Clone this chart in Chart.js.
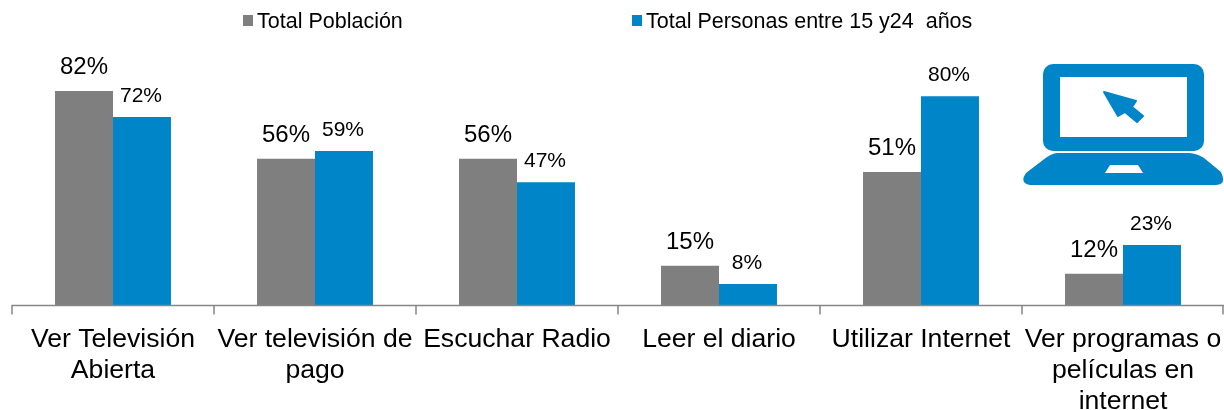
<!DOCTYPE html>
<html><head><meta charset="utf-8">
<script src="https://cdn.jsdelivr.net/npm/chart.js"></script>
<style>html,body{margin:0;padding:0;background:#fff}#w{position:relative;width:1224px;height:410px}canvas{display:block}</style>
</head><body><div id="w"><canvas id="c" width="1224" height="410"></canvas></div>
<script>
const categories=[["Ver Televisión","Abierta"],["Ver televisión de","pago"],["Escuchar Radio"],["Leer el diario"],["Utilizar Internet"],["Ver programas o","películas en","internet"]];
const seriesNames=["Total Población","Total Personas entre 15 y24  años"];
const poblacion=[82,56,56,15,51,12];
const jovenes=[72,59,47,8,80,23];
const colors=["#7F7F7F","#0085C8"];
const font='"Liberation Sans", Arial, sans-serif';
const overlay={id:'overlay',afterDraw(ch){
 const c=ch.ctx,x=ch.scales.x,y=ch.scales.y,a=ch.chartArea;
 c.save();
 c.strokeStyle='#868686';c.lineWidth=1.5;c.beginPath();
 const by=y.getPixelForValue(0)+.5;
 c.moveTo(a.left-.75,by);c.lineTo(a.right,by);
 const w=(a.right-a.left)/categories.length;
 for(let i=0;i<=categories.length;i++){const px=Math.min(Math.round(a.left+i*w),1223);c.moveTo(px,by);c.lineTo(px,by+9);}
 c.stroke();
 c.textAlign='center';c.textBaseline='alphabetic';c.fillStyle='#000';
 ch.data.datasets.forEach((d,di)=>{const m=ch.getDatasetMeta(di);m.data.forEach((b,i)=>{
   c.font=(di==0?'24px ':'21px ')+font;
   c.fillText(d.data[i]+'%',b.x-(di==0?0:1),b.y-(di==0?17:15));});});
 c.font='21.5px '+font;c.textAlign='left';
 const lg=[[243,257],[632,646]];
 lg.forEach((p,i)=>{c.fillStyle=colors[i];c.fillRect(p[0],15,10,11);c.fillStyle='#000';c.fillText(seriesNames[i],p[1],28);});
 const b=colors[1];c.fillStyle=b;
 c.beginPath();c.roundRect(1043,64,161,87,10);c.fill();
 c.fillStyle='#fff';c.fillRect(1060,77,127,60);
 c.fillStyle=b;c.beginPath();c.moveTo(1057,153);c.lineTo(1190,153);c.quadraticCurveTo(1198,154,1204,158);c.lineTo(1221,172);c.quadraticCurveTo(1227,185,1216,185);c.lineTo(1030,185);c.quadraticCurveTo(1019,183,1026,173);c.lineTo(1043,160);c.quadraticCurveTo(1050,154,1057,153);c.fill();
 c.fillStyle='#fff';c.beginPath();c.moveTo(1110,165);c.lineTo(1138,165);c.lineTo(1143,173);c.lineTo(1105,173);c.fill();
 c.fillStyle=b;c.lineJoin='round';c.strokeStyle=b;c.lineWidth=2;c.beginPath();c.moveTo(1104,92);c.lineTo(1136,101);c.lineTo(1132,107);c.lineTo(1143,116);c.lineTo(1137,122);c.lineTo(1125,112);c.lineTo(1118,116);c.closePath();c.fill();c.stroke();
 c.restore();
}};
new Chart(document.getElementById('c'),{type:'bar',
 data:{labels:categories,datasets:[
  {label:seriesNames[0],data:poblacion,backgroundColor:colors[0]},
  {label:seriesNames[1],data:jovenes,backgroundColor:colors[1]}]},
 options:{responsive:false,animation:false,
  layout:{padding:{left:12,right:0,top:44,bottom:0}},
  datasets:{bar:{categoryPercentage:0.574,barPercentage:1}},
  plugins:{legend:{display:false},tooltip:{enabled:false}},
  scales:{
   x:{grid:{display:false},border:{display:false},afterFit(s){s.height=105;s.paddingLeft=0;s.paddingRight=0;},
      ticks:{color:'#000',font:{size:26.6,family:font,lineHeight:1.17},padding:11,maxRotation:0,minRotation:0,autoSkip:false}},
   y:{display:false,min:0,max:100}
  }},
 plugins:[overlay]});
</script></body></html>
